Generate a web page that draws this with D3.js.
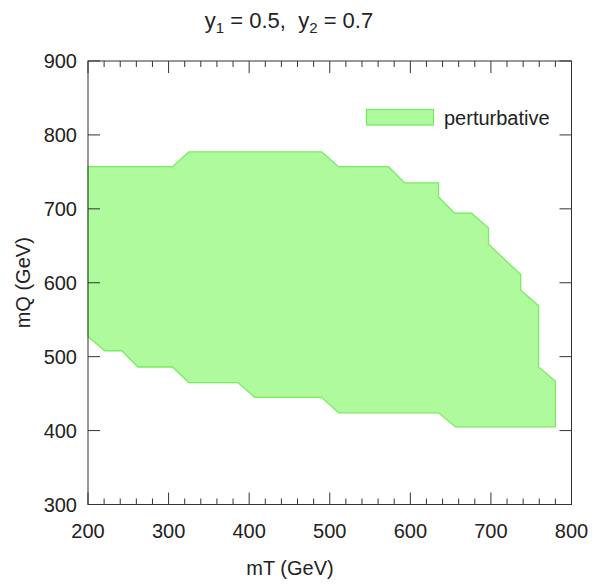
<!DOCTYPE html>
<html>
<head>
<meta charset="utf-8">
<script src="https://cdn.jsdelivr.net/npm/d3@7"></script>
<style>
  body { margin: 0; background: #fff; }
  svg text { font-family: "Liberation Sans", Arial, Helvetica, sans-serif; fill: #222; }
</style>
</head>
<body>
<svg id="chart" width="594" height="585"></svg>
<script>
// region boundary, walked clockwise from top-left corner (mT, mQ in GeV)
var mT = [200, 305, 325, 490, 511, 573, 593, 635, 635, 655, 676, 697, 697, 737, 737, 759, 759, 780,
          780, 656, 635, 511, 490, 407, 386, 325, 305, 262, 242, 221, 200]
var mQ = [757, 757, 777, 777, 757, 757, 735, 735, 716, 694, 694, 674, 652, 611, 590, 569, 486, 467,
          405, 405, 424, 424, 445, 445, 465, 465, 486, 486, 508, 508, 527]

var xTicks = [200, 300, 400, 500, 600, 700, 800]
var yTicks = [300, 400, 500, 600, 700, 800, 900]
var legendLabel = 'perturbative'

const LEFT = 88
const RIGHT = 571.5
const TOP = 61
const BOTTOM = 504.5
const FILL = '#b0fa9e'
const STROKE = '#78ec62'

let svg = d3.select('#chart')

let x = d3.scaleLinear().domain([200, 800]).range([LEFT, RIGHT])
let y = d3.scaleLinear().domain([300, 900]).range([BOTTOM, TOP])

// filled region
let pts = mT.map((v, i) => [v, mQ[i]])
svg.append('path')
  .datum(pts)
  .attr('fill', FILL)
  .attr('stroke', STROKE)
  .attr('stroke-width', 1.3)
  .attr('d', d3.line().x(d => x(d[0])).y(d => y(d[1])).curve(d3.curveLinearClosed))

// frame
svg.append('rect')
  .attr('x', LEFT).attr('y', TOP)
  .attr('width', RIGHT - LEFT).attr('height', BOTTOM - TOP)
  .attr('fill', 'none').attr('stroke', '#333').attr('stroke-width', 1)

// ticks inward on all sides
const MAJOR = 12
const MINOR = 6
let minorX = d3.range(200, 801, 20)
let tickG = svg.append('g').attr('stroke', '#333').attr('stroke-width', 1)
minorX.forEach(v => {
  let len = xTicks.includes(v) ? MAJOR : MINOR
  tickG.append('line').attr('x1', x(v)).attr('x2', x(v)).attr('y1', BOTTOM).attr('y2', BOTTOM - len)
  tickG.append('line').attr('x1', x(v)).attr('x2', x(v)).attr('y1', TOP).attr('y2', TOP + len)
})
yTicks.forEach(v => {
  tickG.append('line').attr('x1', LEFT).attr('x2', LEFT + MAJOR).attr('y1', y(v)).attr('y2', y(v))
  tickG.append('line').attr('x1', RIGHT).attr('x2', RIGHT - MAJOR).attr('y1', y(v)).attr('y2', y(v))
})

// tick labels
svg.selectAll('.xlab').data(xTicks).enter().append('text')
  .attr('x', d => x(d)).attr('y', 538)
  .attr('text-anchor', 'middle').attr('font-size', 20)
  .text(d => d)
svg.selectAll('.ylab').data(yTicks).enter().append('text')
  .attr('x', 77).attr('y', d => y(d) + 7)
  .attr('text-anchor', 'end').attr('font-size', 20)
  .text(d => d)

// axis titles
svg.append('text')
  .attr('x', 290).attr('y', 575)
  .attr('text-anchor', 'middle').attr('font-size', 20)
  .text('mT (GeV)')
svg.append('text')
  .attr('transform', `translate(30, ${(TOP + BOTTOM) / 2}) rotate(-90)`)
  .attr('text-anchor', 'middle').attr('font-size', 20)
  .text('mQ (GeV)')

// title with subscripts
let title = svg.append('text')
  .attr('x', 289).attr('y', 28)
  .attr('text-anchor', 'middle').attr('font-size', 22)
title.append('tspan').text('y')
title.append('tspan').attr('font-size', 15).attr('dy', 5).text('1')
title.append('tspan').attr('dy', -5).text(' = 0.5,\u00a0\u00a0y')
title.append('tspan').attr('font-size', 15).attr('dy', 5).text('2')
title.append('tspan').attr('dy', -5).text(' = 0.7')

// legend
svg.append('rect')
  .attr('x', 366.5).attr('y', 109.5).attr('width', 67).attr('height', 15.5)
  .attr('fill', FILL).attr('stroke', STROKE).attr('stroke-width', 1.3)
svg.append('text')
  .attr('x', 444).attr('y', 124.5)
  .attr('font-size', 20)
  .text(legendLabel)
</script>
</body>
</html>
